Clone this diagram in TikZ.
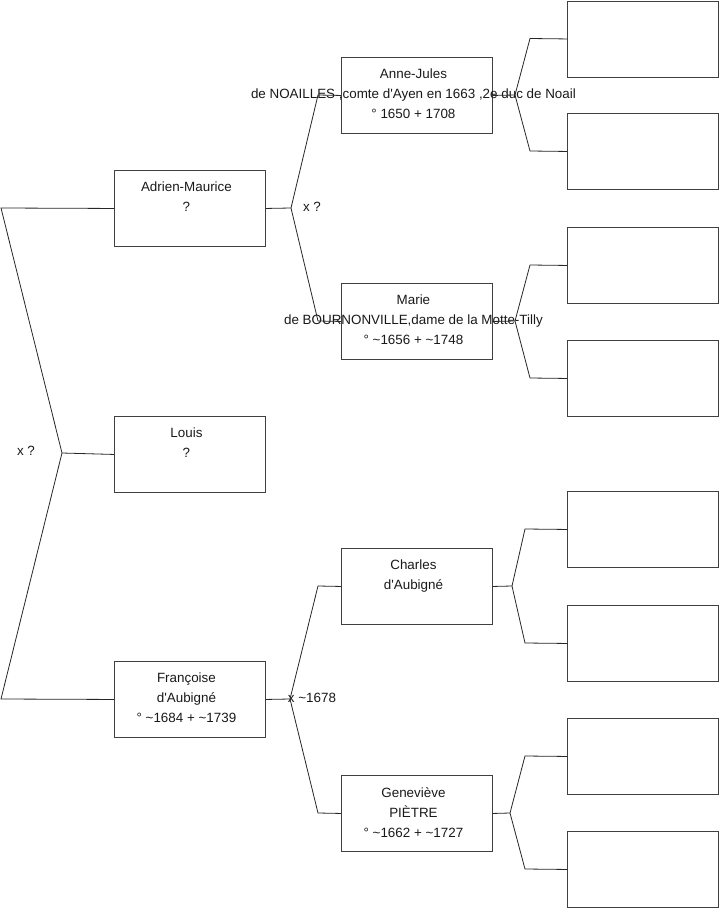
\documentclass[tikz,border=0pt]{standalone}
\usepackage{fontspec}
\setmainfont{Liberation Sans}
\begin{document}
\begin{tikzpicture}[x=1pt,y=-1pt,
 pbox/.style={draw=black!75, line width=0.9pt, minimum width=151pt, minimum height=76pt, inner sep=0pt, anchor=north west},
 ptext/.style={font=\fontsize{13.4}{20}\selectfont, align=center, anchor=north, inner sep=0pt, text=black!90},
 conn/.style={draw=black!85, line width=0.8pt},
 lbl/.style={font=\fontsize{13.4}{20}\selectfont, inner sep=0pt, text=black!90}]
\useasboundingbox (0,0) rectangle (719,908);
% generation 1
\node[pbox] (ad) at (114,170) {};
\node[pbox] (lo) at (114,416) {};
\node[pbox] (fr) at (114,661) {};
% generation 2
\node[pbox] (aj) at (341,57) {};
\node[pbox] (ma) at (341,283) {};
\node[pbox] (ch) at (341,548) {};
\node[pbox] (ge) at (341,775) {};
% generation 3
\node[pbox] (g1) at (567,0.5) {};
\node[pbox] (g2) at (567,113) {};
\node[pbox] (g3) at (567,227) {};
\node[pbox] (g4) at (567,340) {};
\node[pbox] (g5) at (567,491) {};
\node[pbox] (g6) at (567,605) {};
\node[pbox] (g7) at (567,718) {};
\node[pbox] (g8) at (567,831) {};
% texts
\node[ptext] (tad) at ([xshift=-3.5pt,yshift=-12pt]ad.north) {Adrien-Maurice\\?};
\node[ptext] (tlo) at ([xshift=-3.5pt,yshift=-12pt]lo.north) {Louis\\?};
\node[ptext] (tfr) at ([xshift=-3.5pt,yshift=-12pt]fr.north) {Françoise\\d\textquotesingle Aubigné\\° \textasciitilde1684 + \textasciitilde1739};
\node[ptext] (taj) at ([xshift=-3.5pt,yshift=-12pt]aj.north) {Anne-Jules\\de NOAILLES ,comte d\textquotesingle Ayen en 1663 ,2e duc de Noail\\° 1650 + 1708};
\node[ptext] (tma) at ([xshift=-3.5pt,yshift=-12pt]ma.north) {Marie\\de BOURNONVILLE,dame de la Motte-Tilly\\° \textasciitilde1656 + \textasciitilde1748};
\node[ptext] (tch) at ([xshift=-3.5pt,yshift=-12pt]ch.north) {Charles\\d\textquotesingle Aubigné};
\node[ptext] (tge) at ([xshift=-3.5pt,yshift=-12pt]ge.north) {Geneviève\\PIÈTRE\\° \textasciitilde1662 + \textasciitilde1727};
% marriage labels
\node[lbl] (m0) at (26,451) {x ?};
\node[lbl] (m1) at (312,207) {x ?};
\node[lbl] (m2) at (312,698) {x \textasciitilde1678};
% junction coordinates
\coordinate (l1) at (1,208);
\coordinate (j0) at (62,453);
\coordinate (l2) at (1,699);
\coordinate (j1) at (291,208);
\coordinate (c1) at (318,95);
\coordinate (c2) at (318,321);
\coordinate (j2) at (290,699);
\coordinate (c3) at (318,586);
\coordinate (c4) at (318,813);
\coordinate (k1) at (515,95);
\coordinate (d1) at (530,38.5);
\coordinate (d2) at (530,151);
\coordinate (k2) at (515,321);
\coordinate (d3) at (530,265);
\coordinate (d4) at (530,378);
\coordinate (k3) at (512,586);
\coordinate (d5) at (525,529);
\coordinate (d6) at (525,643);
\coordinate (k4) at (510,813);
\coordinate (d7) at (525,756);
\coordinate (d8) at (525,869);
% connectors
\draw[conn] (ad.west) -- (l1) -- (j0) -- (l2) -- (fr.west);
\draw[conn] (j0) -- (lo.west);
\draw[conn] (ad.east) -- (j1);
\draw[conn] (aj.west) -- (c1) -- (j1) -- (c2) -- (ma.west);
\draw[conn] (fr.east) -- (j2);
\draw[conn] (ch.west) -- (c3) -- (j2) -- (c4) -- (ge.west);
\draw[conn] (aj.east) -- (k1);
\draw[conn] (g1.west) -- (d1) -- (k1) -- (d2) -- (g2.west);
\draw[conn] (ma.east) -- (k2);
\draw[conn] (g3.west) -- (d3) -- (k2) -- (d4) -- (g4.west);
\draw[conn] (ch.east) -- (k3);
\draw[conn] (g5.west) -- (d5) -- (k3) -- (d6) -- (g6.west);
\draw[conn] (ge.east) -- (k4);
\draw[conn] (g7.west) -- (d7) -- (k4) -- (d8) -- (g8.west);
\end{tikzpicture}
\end{document}
